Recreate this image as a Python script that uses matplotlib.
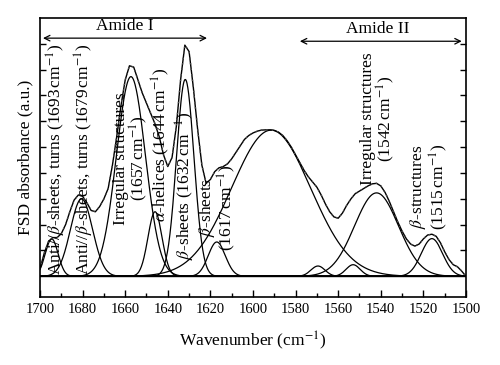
import matplotlib
matplotlib.use("Agg")
import matplotlib.pyplot as plt
import numpy as np

# fitted band components: centre (cm-1), height (a.u.), gaussian width sigma (cm-1)
band_centres = [1694.5, 1680.5, 1657.3, 1646.0, 1631.8, 1617.0, 1591.5, 1569.5, 1553.0, 1542.0, 1516.0]
band_heights = [1.45, 3.00, 7.73, 2.50, 7.62, 1.33, 5.66, 0.40, 0.45, 3.23, 1.46]
band_widths = [3.0, 5.2, 6.8, 3.3, 4.1, 4.0, 18.5, 3.3, 3.3, 10.3, 5.0]

fsd_wavenumber = np.arange(1700, 1499, -2)
fsd_absorbance = [
    0.30, 0.90, 1.35, 1.50, 1.50, 1.65, 2.00, 2.50, 2.95, 3.15,
    3.10, 2.85, 2.55, 2.50, 2.70, 3.00, 3.40, 4.30, 5.40, 6.60,
    7.60, 8.15, 8.10, 7.60, 7.10, 6.70, 6.30, 5.90, 5.40, 4.70,
    4.25, 4.60, 5.80, 7.60, 8.95, 8.70, 7.30, 5.70, 4.30, 3.60,
    3.75, 4.05, 4.20, 4.25, 4.35, 4.55, 4.80, 5.05, 5.30, 5.45,
    5.55, 5.62, 5.66, 5.67, 5.67, 5.65, 5.58, 5.45, 5.25, 5.00,
    4.70, 4.40, 4.10, 3.85, 3.65, 3.45, 3.15, 2.80, 2.50, 2.30,
    2.25, 2.45, 2.75, 3.00, 3.20, 3.30, 3.40, 3.50, 3.58, 3.60,
    3.50, 3.25, 2.90, 2.50, 2.10, 1.75, 1.45, 1.25, 1.17, 1.25,
    1.45, 1.60, 1.63, 1.55, 1.30, 0.95, 0.65, 0.45, 0.37, 0.20,
    0.00,
]

# rotated band labels
band_labels = [
    r"Anti//$\beta$-sheets, turns (1693$\,$cm$^{-1}$)",
    r"Anti//$\beta$-sheets, turns (1679$\,$cm$^{-1}$)",
    "Irregular structures\n" + r"(1657$\,$cm$^{-1}$)",
    r"$\alpha$-helices (1644$\,$cm$^{-1}$)",
    r"$\beta$-sheets (1632$\,$cm$^{-1}$)",
    r"$\beta$-sheets" + "\n" + r"(1617$\,$cm$^{-1}$)",
    "Irregular structures\n" + r"(1542$\,$cm$^{-1}$)",
    r"$\beta$-structures" + "\n" + r"(1515$\,$cm$^{-1}$)",
]
label_x = [1692.4, 1679.3, 1657.0, 1643.4, 1631.9, 1616.7, 1541.0, 1517.5]
label_y = [4.55, 4.55, 4.55, 5.08, 3.50, 2.65, 6.10, 3.47]

plt.rcParams["font.family"] = ["Liberation Serif", "DejaVu Serif"]
plt.rcParams["mathtext.fontset"] = "stix"


def gauss(x, c, h, s):
    return h * np.exp(-((x - c) ** 2) / (2 * s**2))


def main():
    fig = plt.figure(figsize=(5.0, 3.65), dpi=100)
    ax = fig.add_axes([0.08, 0.1863, 0.852, 0.7644])

    x = np.linspace(1500, 1700, 1001)
    for c, h, s in zip(band_centres, band_heights, band_widths):
        ax.plot(x, gauss(x, c, h, s), color="black", lw=0.9)

    ax.plot(fsd_wavenumber, fsd_absorbance, color="black", lw=1.0)
    # dotted trace sits on the spectrum
    ax.plot(fsd_wavenumber, fsd_absorbance, color="0.3", lw=1.0, ls=(0.5, (1, 3)))
    ax.axhline(0, color="black", lw=1.0)

    for txt, lx, ly in zip(band_labels, label_x, label_y):
        ax.text(lx, ly, txt, rotation=90, ha="center", va="center",
                fontsize=12.5, linespacing=0.95, multialignment="center")

    # amide regions
    ax.annotate("", xy=(1621.6, 9.22), xytext=(1698.6, 9.22),
                arrowprops=dict(arrowstyle="<->", lw=0.9, color="black",
                                shrinkA=0, shrinkB=0))
    ax.text(1660, 9.69, "Amide I", ha="center", va="center", fontsize=12.5)
    ax.annotate("", xy=(1502, 9.1), xytext=(1578, 9.1),
                arrowprops=dict(arrowstyle="<->", lw=0.9, color="black",
                                shrinkA=0, shrinkB=0))
    ax.text(1541.3, 9.57, "Amide II", ha="center", va="center", fontsize=12.5)

    ax.set_xlim(1700, 1500)
    ax.set_ylim(-0.8, 10)
    ax.set_xticks(np.arange(1700, 1499, -20))
    ax.set_xticks(np.arange(1690, 1500, -20), minor=True)
    ax.set_yticks(np.arange(1, 10))
    ax.set_yticklabels([])
    ax.tick_params(axis="x", which="major", direction="in", length=5, width=1,
                   labelsize=10.5, pad=4, top=False)
    ax.tick_params(axis="x", which="minor", direction="in", length=3, width=1, top=False)
    ax.tick_params(axis="y", direction="in", length=4, width=1, left=True, right=True)
    for sp in ax.spines.values():
        sp.set_linewidth(1.2)

    ax.set_xlabel(r"Wavenumber (cm$^{-1}$)", fontsize=12.5, labelpad=10)
    ax.set_ylabel("FSD absorbance (a.u.)", fontsize=12.5, labelpad=1)

    fig.savefig("out.png", dpi=100)


if __name__ == "__main__":
    main()
